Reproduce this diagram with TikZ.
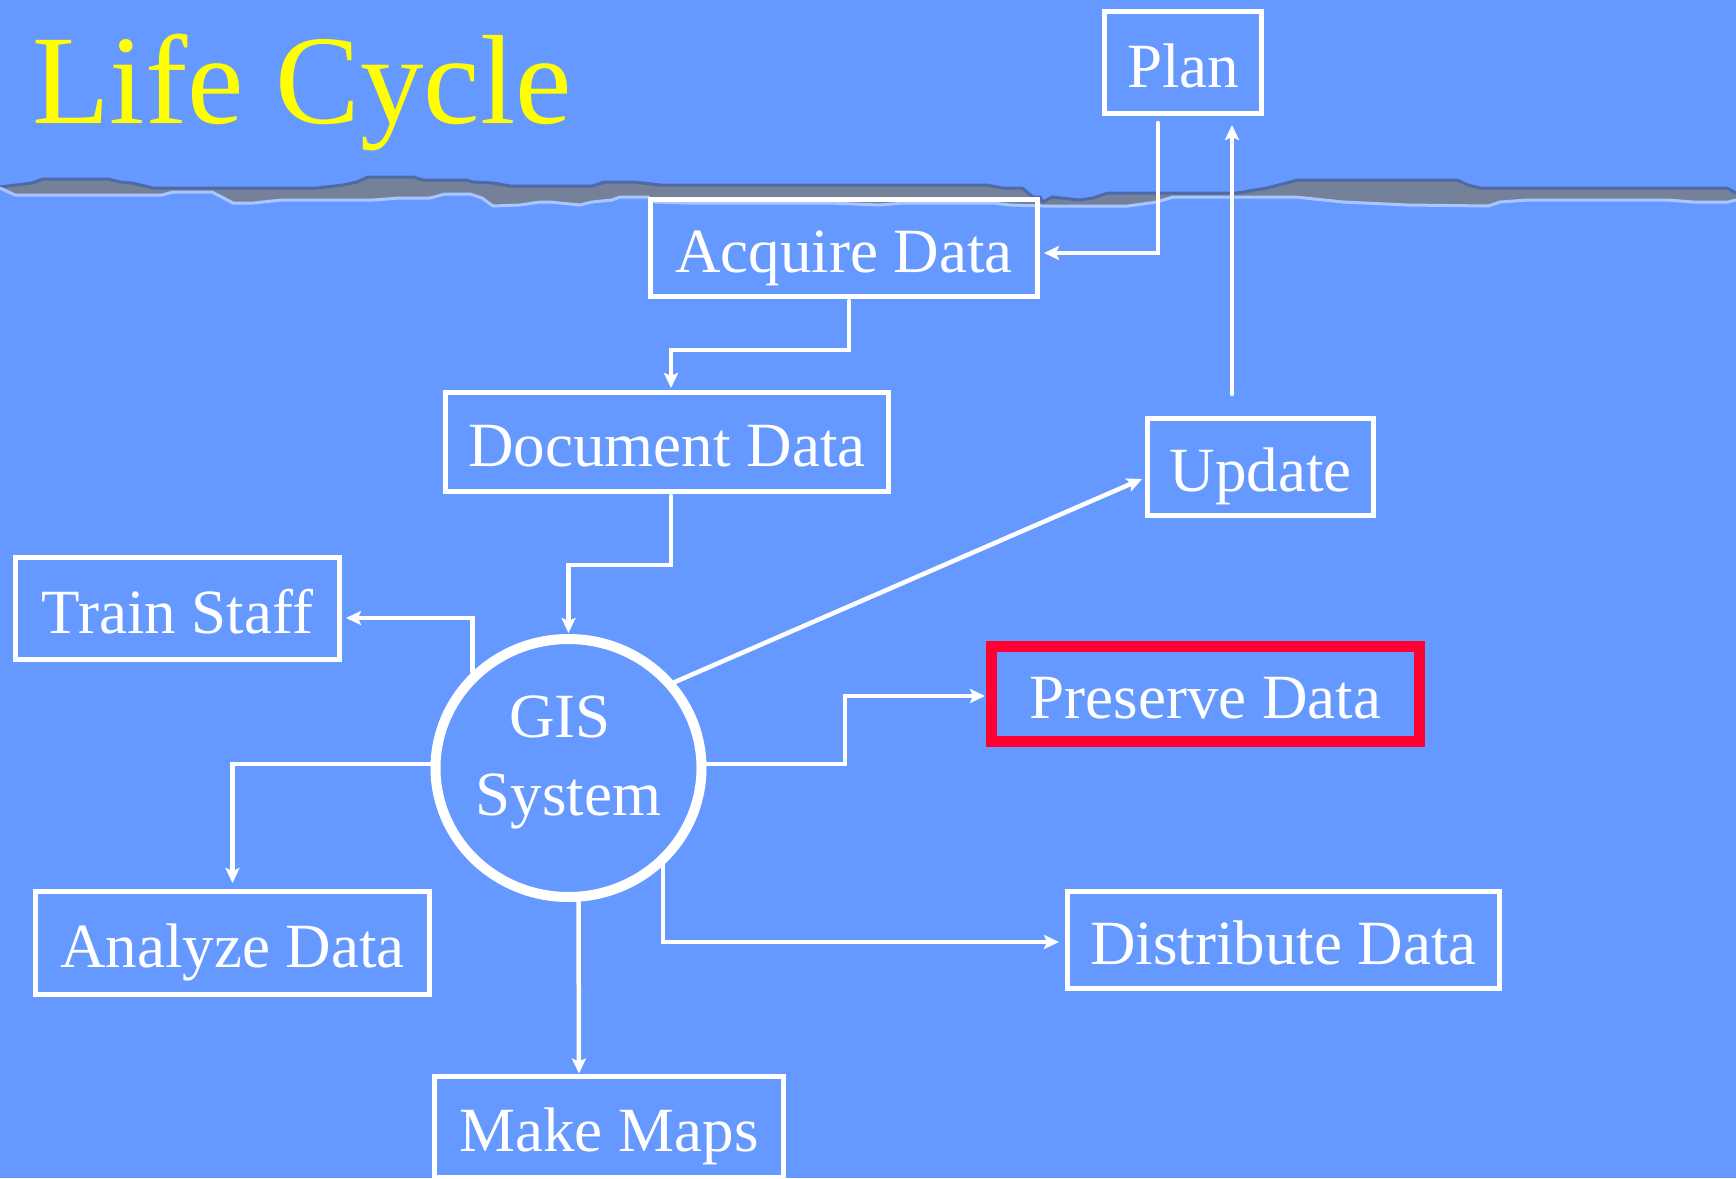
\documentclass[tikz,border=0pt]{standalone}
\usepackage{fontspec}
\setmainfont{Liberation Serif}
\usetikzlibrary{arrows.meta,shapes.geometric}
\definecolor{bgblue}{HTML}{6699FF}
\definecolor{stripgrey}{HTML}{748199}
\definecolor{stripdark}{HTML}{4F69A6}
\definecolor{striplight}{HTML}{AAC6FF}
\definecolor{titleyellow}{HTML}{FFFF00}
\definecolor{preservered}{HTML}{FF0033}
\tikzset{
  lcbox/.style={rectangle, draw=white, line width=5pt, inner sep=0pt, text=white,
    font=\fontsize{63}{78}\selectfont, text height=65.5pt, text depth=15.8pt},
  lcarrow/.style={draw=white, line width=4.5pt, line cap=round, line join=miter,
    -{Stealth[length=15pt,width=14pt,inset=3pt]}},
  lcellipse/.style={ellipse, draw=white, line width=10pt, inner sep=0pt, text=white,
    font=\fontsize{63}{78}\selectfont, align=center},
}
\begin{document}
\begin{tikzpicture}[x=1pt,y=-1pt]
\useasboundingbox (0,0) rectangle (1736,1178);
\fill[bgblue] (0,0) rectangle (1736,1178);
% horizon strip
\fill[stripgrey] (0,187) -- (32,183) -- (43,179) -- (108,179) -- (120,182) -- (132,183) -- (153,188) -- (317,188) -- (343,185) -- (357,182) -- (368,177) -- (413,177) -- (423,180) -- (467,180) -- (473,182) -- (493,183) -- (510,186) -- (592,186) -- (605,182) -- (633,182) -- (660,185) -- (987,185) -- (1002,188) -- (1022,188) -- (1033,197) -- (1040,197) -- (1043,202) -- (1052,197) -- (1080,200) -- (1093,198) -- (1108,193) -- (1237,193) -- (1267,188) -- (1298,180) -- (1457,180) -- (1468,185) -- (1480,188) -- (1727,188) -- (1736,193)
 -- (1736,200) -- (1728,202) -- (1693,202) -- (1667,200) -- (1528,200) -- (1500,202) -- (1488,206) -- (1407,205) -- (1343,202) -- (1295,197) -- (1173,197) -- (1157,202) -- (1128,206) -- (1043,206) -- (1010,205) -- (993,203) -- (903,203) -- (880,205) -- (830,203) -- (687,203) -- (655,202) -- (648,197) -- (620,197) -- (612,200) -- (592,202) -- (580,205) -- (550,202) -- (540,202) -- (520,205) -- (493,206) -- (482,198) -- (470,194) -- (445,194) -- (430,198) -- (400,198) -- (373,200) -- (282,200) -- (253,203) -- (233,203) -- (212,192) -- (173,192) -- (162,195) -- (15,195) -- (0,188) -- cycle;
\draw[stripdark, line width=3pt] (0,187) -- (32,183) -- (43,179) -- (108,179) -- (120,182) -- (132,183) -- (153,188) -- (317,188) -- (343,185) -- (357,182) -- (368,177) -- (413,177) -- (423,180) -- (467,180) -- (473,182) -- (493,183) -- (510,186) -- (592,186) -- (605,182) -- (633,182) -- (660,185) -- (987,185) -- (1002,188) -- (1022,188) -- (1033,197) -- (1040,197) -- (1043,202) -- (1052,197) -- (1080,200) -- (1093,198) -- (1108,193) -- (1237,193) -- (1267,188) -- (1298,180) -- (1457,180) -- (1468,185) -- (1480,188) -- (1727,188) -- (1736,193);
\draw[striplight, line width=3pt] (0,188) -- (15,195) -- (162,195) -- (173,192) -- (212,192) -- (233,203) -- (253,203) -- (282,200) -- (373,200) -- (400,198) -- (430,198) -- (445,194) -- (470,194) -- (482,198) -- (493,206) -- (520,205) -- (540,202) -- (550,202) -- (580,205) -- (592,202) -- (612,200) -- (620,197) -- (648,197) -- (655,202) -- (687,203) -- (830,203) -- (880,205) -- (903,203) -- (993,203) -- (1010,205) -- (1043,206) -- (1128,206) -- (1157,202) -- (1173,197) -- (1295,197) -- (1343,202) -- (1407,205) -- (1488,206) -- (1500,202) -- (1528,200) -- (1667,200) -- (1693,202) -- (1728,202) -- (1736,200);
% title
\node[anchor=base west, inner sep=0pt, text=titleyellow, font=\fontsize{127}{150}\selectfont] (title) at (32,123) {Life Cycle};
% nodes
\node[lcbox, minimum width=157pt, minimum height=102pt] (plan) at (1183,62.5) {Plan};
\node[lcbox, minimum width=387pt, minimum height=97pt] (acquire) at (844,248) {Acquire Data};
\node[lcbox, minimum width=443pt, minimum height=99pt] (document) at (667,442) {Document Data};
\node[lcbox, minimum width=226pt, minimum height=97pt] (update) at (1260.5,467) {Update};
\node[lcbox, minimum width=324pt, minimum height=102pt] (train) at (177.5,608.5) {Train Staff};
\node[lcellipse, minimum width=266pt, minimum height=258pt] (gis) at (568.5,768) {GIS\kern17pt\\System\rule[-24pt]{0pt}{0pt}};
\node[lcbox, draw=preservered, line width=11pt, minimum width=428pt, minimum height=95pt] (preserve) at (1205.5,694) {Preserve Data};
\node[lcbox, minimum width=394pt, minimum height=103pt] (analyze) at (232.5,943) {Analyze Data};
\node[lcbox, minimum width=432pt, minimum height=97pt] (distribute) at (1283.5,940) {Distribute Data};
\node[lcbox, minimum width=349pt, minimum height=101pt] (makemaps) at (609,1126.5) {Make Maps};
% bend points
\coordinate (b1) at (849,350);
\coordinate (b2) at (671,565);
\coordinate (b3) at (845,764);
% connectors
\draw[lcarrow] ([xshift=-25pt,yshift=-7pt]plan.south) |- ([xshift=4pt,yshift=-5pt]acquire.east);
\draw[lcarrow] ([xshift=-28.5pt,yshift=22pt]update.north) -- ([xshift=49pt,yshift=-9pt]plan.south);
\draw[lcarrow] ([xshift=5pt,yshift=-2pt]acquire.south) -- (b1) -| ([xshift=4pt,yshift=2pt]document.north);
\draw[lcarrow] ([xshift=4pt,yshift=-2pt]document.south) -- (b2) -| ([yshift=1pt]gis.north);
\draw[lcarrow] (gis.135) |- ([xshift=4pt,yshift=-9.5pt]train.east);
\draw[lcarrow] (gis.39) -- ([xshift=-3pt,yshift=-12pt]update.west);
\draw[lcarrow] ([yshift=4pt]gis.east) -- (b3) |- ([xshift=-1pt,yshift=-2pt]preserve.west);
\draw[lcarrow] ([yshift=4pt]gis.west) -| ([yshift=6pt]analyze.north);
\draw[lcarrow] ([xshift=10pt]gis.south) -- ([xshift=-30pt]makemaps.north);
\draw[lcarrow] (gis.-46.5) |- ([xshift=-6pt,yshift=-2pt]distribute.west);
\end{tikzpicture}
\end{document}
